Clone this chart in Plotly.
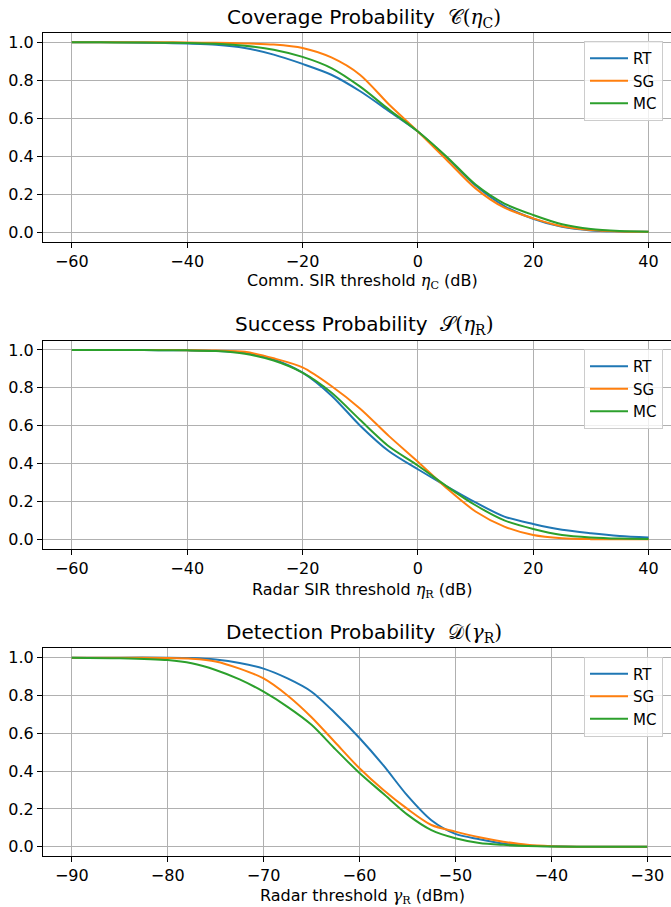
import plotly.graph_objects as go

# ---------------- data ----------------
x_cov = [-60, -55, -50, -45, -40, -35, -30, -25, -20, -15, -10, -5, 0, 5, 10, 15, 20, 25, 30, 35, 40]
cov_rt = [1.0, 1.0, 0.999, 0.997, 0.993, 0.987, 0.970, 0.935, 0.886, 0.829, 0.742, 0.637, 0.530, 0.392, 0.245, 0.137, 0.070, 0.027, 0.008, 0.003, 0.001]
cov_sg = [1.0, 1.0, 1.0, 1.0, 0.999, 0.997, 0.994, 0.988, 0.970, 0.920, 0.828, 0.672, 0.530, 0.380, 0.230, 0.128, 0.072, 0.030, 0.010, 0.003, 0.001]
cov_mc = [1.0, 1.0, 0.999, 0.998, 0.996, 0.992, 0.982, 0.961, 0.923, 0.864, 0.766, 0.645, 0.530, 0.397, 0.250, 0.150, 0.090, 0.041, 0.016, 0.006, 0.002]

x_suc = [-60, -55, -50, -45, -40, -35, -30, -25, -20, -15, -10, -5, 0, 5, 10, 15, 20, 25, 30, 35, 40]
suc_rt = [1.0, 1.0, 1.0, 0.999, 0.998, 0.995, 0.985, 0.950, 0.880, 0.760, 0.600, 0.465, 0.370, 0.280, 0.195, 0.120, 0.081, 0.050, 0.032, 0.018, 0.010]
suc_sg = [1.0, 1.0, 1.0, 1.0, 0.999, 0.997, 0.990, 0.956, 0.908, 0.810, 0.690, 0.545, 0.410, 0.270, 0.147, 0.067, 0.023, 0.006, 0.001, 0.0, 0.0]
suc_mc = [1.0, 1.0, 1.0, 0.999, 0.998, 0.994, 0.980, 0.944, 0.880, 0.775, 0.630, 0.490, 0.390, 0.280, 0.180, 0.100, 0.055, 0.023, 0.010, 0.004, 0.002]

x_det = [-90, -85, -80, -77.5, -75, -72.5, -70, -67.5, -65, -62.5, -60, -57.5, -55, -52.5, -50, -47.5, -45, -42.5, -40, -35, -30]
det_rt = [1.0, 1.0, 1.0, 0.998, 0.990, 0.972, 0.942, 0.890, 0.820, 0.705, 0.575, 0.430, 0.270, 0.140, 0.068, 0.040, 0.017, 0.006, 0.002, 0.0, 0.0]
det_sg = [1.0, 1.0, 0.998, 0.994, 0.980, 0.942, 0.890, 0.800, 0.685, 0.550, 0.415, 0.300, 0.200, 0.115, 0.080, 0.050, 0.027, 0.010, 0.003, 0.0, 0.0]
det_mc = [1.0, 0.997, 0.987, 0.970, 0.935, 0.885, 0.820, 0.740, 0.645, 0.515, 0.390, 0.280, 0.170, 0.088, 0.045, 0.020, 0.010, 0.004, 0.001, 0.0, 0.0]

series_names = ["RT", "SG", "MC"]
y_ticks = [0.0, 0.2, 0.4, 0.6, 0.8, 1.0]
x_ticks_sir = [-60, -40, -20, 0, 20, 40]
x_ticks_det = [-90, -80, -70, -60, -50, -40, -30]

titles = [
    "Coverage Probability  <span style='font-family:DejaVu Serif'>𝒞(<i>η</i><sub>C</sub>)</span>",
    "Success Probability  <span style='font-family:DejaVu Serif'>𝒮(<i>η</i><sub>R</sub>)</span>",
    "Detection Probability  <span style='font-family:DejaVu Serif'>𝒟(<i>γ</i><sub>R</sub>)</span>",
]
xlabels = [
    "Comm. SIR threshold <span style='font-family:DejaVu Serif'><i>η</i><sub>C</sub></span> (dB)",
    "Radar SIR threshold <span style='font-family:DejaVu Serif'><i>η</i><sub>R</sub></span> (dB)",
    "Radar threshold <span style='font-family:DejaVu Serif'><i>γ</i><sub>R</sub></span> (dBm)",
]

# ---------------- layout geometry ----------------
W, H = 671, 907
L = 43
colors = ["#1f77b4", "#ff7f0e", "#2ca02c"]
FONT = "DejaVu Sans"
TICK = 16

def py(pix):
    return 1 - pix / H

domains = [[py(241.5), py(32.8)], [py(548.8), py(340.5)], [py(856.2), py(648.2)]]
title_y = [18, 325, 633]
xlabel_y = [282, 590, 896]
legend_top = [41.0, 349.0, 656.5]
xranges = [[-65, -65 + 628 / 5.767], [-65, -65 + 628 / 5.767], [-93, -93 + 628 / 9.59]]

fig = go.Figure()
panels = [
    (x_cov, [cov_rt, cov_sg, cov_mc], x_ticks_sir),
    (x_suc, [suc_rt, suc_sg, suc_mc], x_ticks_sir),
    (x_det, [det_rt, det_sg, det_mc], x_ticks_det),
]

for i, (xs, ys_list, xt) in enumerate(panels):
    ax = "" if i == 0 else str(i + 1)
    leg = "legend" if i == 0 else f"legend{i + 1}"
    for j, ys in enumerate(ys_list):
        fig.add_trace(go.Scatter(
            x=xs, y=ys, mode="lines", name=series_names[j],
            line=dict(color=colors[j], width=2, shape="spline", smoothing=0.8),
            xaxis="x" + ax, yaxis="y" + ax, legend=leg,
            legendgroup=f"p{i}s{j}",
        ))
    axis_common = dict(
        showgrid=True, gridcolor="#b0b0b0", gridwidth=1,
        showline=True, linecolor="black", linewidth=1,
        ticks="outside", ticklen=5, tickcolor="black", tickwidth=1,
        tickfont=dict(family=FONT, size=TICK, color="black"),
        zeroline=False,
    )
    fig.update_layout(**{
        "xaxis" + ax: dict(
            axis_common, domain=[0, 1], range=xranges[i], tickvals=xt,
            anchor="y" + ax, mirror=True,
        ),
        "yaxis" + ax: dict(
            axis_common, domain=domains[i], range=[-0.05, 1.05],
            tickvals=y_ticks, tickformat=".1f", anchor="x" + ax,
        ),
        leg: dict(
            x=(584 - L) / 628, y=py(legend_top[i]), xanchor="left", yanchor="top",
            bgcolor="rgba(255,255,255,0.8)", bordercolor="#cccccc", borderwidth=1,
            font=dict(family=FONT, size=15, color="black"),
            tracegroupgap=0, traceorder="grouped", itemwidth=38,
        ),
    })
    fig.add_annotation(text=titles[i], xref="paper", yref="paper",
                       x=(364 - L) / 628, y=py(title_y[i]), xanchor="center", yanchor="middle",
                       showarrow=False, font=dict(family=FONT, size=20, color="black"))
    fig.add_annotation(text=xlabels[i], xref="paper", yref="paper",
                       x=(362 - L) / 628, y=py(xlabel_y[i]), xanchor="center", yanchor="middle",
                       showarrow=False, font=dict(family=FONT, size=TICK, color="black"))

fig.update_layout(
    width=W, height=H,
    margin=dict(l=L, r=0, t=0, b=0, pad=0),
    paper_bgcolor="white", plot_bgcolor="white",
    showlegend=True,
    font=dict(family=FONT, size=TICK, color="black"),
)

fig.write_html("out.html")
